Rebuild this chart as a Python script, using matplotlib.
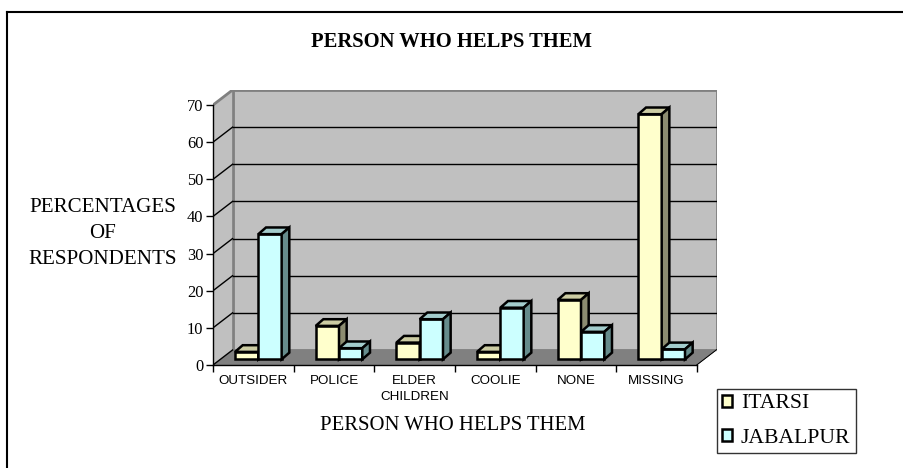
import matplotlib
matplotlib.use('Agg')
import matplotlib.pyplot as plt
from matplotlib.patches import Polygon, Rectangle, Patch
from matplotlib.lines import Line2D

# ---------------- data ----------------
categories = ['OUTSIDER', 'POLICE', 'ELDER\nCHILDREN', 'COOLIE', 'NONE', 'MISSING']
series_names = ['ITARSI', 'JABALPUR']
itarsi = [2.0, 9.0, 4.5, 2.0, 16.0, 66.0]
jabalpur = [33.7, 3.0, 10.8, 13.9, 7.4, 2.7]
yticks = [0, 10, 20, 30, 40, 50, 60, 70]
title = 'PERSON WHO HELPS THEM'
xlabel = 'PERSON WHO HELPS THEM'
ylabel = 'PERCENTAGES\nOF\nRESPONDENTS'

# ---------------- style ----------------
SERIF = 'Liberation Serif'
SANS = 'Liberation Sans'
front_cols = ['#FFFFCC', '#CCFFFF']
top_cols = ['#CCCCA3', '#A3CCCC']
side_cols = ['#8C8C70', '#668C8C']
WALL = '#C0C0C0'
WALL_EDGE = '#808080'
FLOOR = '#808080'

W, H = 904, 468
fig = plt.figure(figsize=(W / 100, H / 100), dpi=100)
fig.patch.set_facecolor('white')

ncat = len(categories)
ymax_val = yticks[-1]
DX, DY = 0.242, 4.04          # wall depth in data units
px_cat, px_unit = 80.67, 3.714
xmax = ncat + DX
ymax = ymax_val + DY
ax = fig.add_axes([213 / W, (H - 365) / H, xmax * px_cat / W, ymax * px_unit / H])
ax.set_xlim(0, xmax)
ax.set_ylim(0, ymax)
ax.patch.set_visible(False)

# walls
ax.add_patch(Polygon([(0, 0), (DX, DY), (DX, ymax), (0, ymax_val)], closed=True,
                     facecolor=WALL, edgecolor='none', zorder=0.5))
ax.add_patch(Polygon([(0, ymax_val), (DX, ymax)], closed=False, fill=False,
                     edgecolor=WALL_EDGE, lw=2, zorder=0.8))
ax.add_patch(Rectangle((DX, DY), ncat, ymax_val, facecolor=WALL, edgecolor=WALL_EDGE,
                       lw=2, zorder=0.6))
# floor
ax.add_patch(Polygon([(0, 0), (ncat, 0), (ncat + DX, DY), (DX, DY)], closed=True,
                     facecolor=FLOOR, edgecolor='none', zorder=0.7))
ax.plot([ncat, ncat + DX], [0, DY], color='black', lw=1, zorder=0.9)
ax.plot([ncat + 0.02, ncat + DX + 0.02], [0, DY], color='white', lw=0.8, zorder=0.9)

# gridlines on back wall + left wall
for v in yticks:
    if v > 0 and v < ymax_val:
        ax.plot([DX, ncat + DX], [v + DY, v + DY], color='black', lw=1, zorder=0.8)
    if v < ymax_val:
        ax.plot([0, DX], [v, v + DY], color='black', lw=1, zorder=0.85)

# bars
X0 = 0.273
BW = 0.289
B0 = 1.53
ddx, ddy = 0.095, 1.8
for i in range(ncat):
    for s, vals in enumerate([itarsi, jabalpur]):
        v = vals[i]
        x = i + X0 + s * BW
        b = B0
        t = B0 + v
        kw = dict(closed=True, edgecolor='black', lw=1.8, joinstyle='miter', zorder=3 + s)
        ax.add_patch(Polygon([(x, b), (x + BW, b), (x + BW, t), (x, t)],
                             facecolor=front_cols[s], **kw))
        ax.add_patch(Polygon([(x, t), (x + BW, t), (x + BW + ddx, t + ddy), (x + ddx, t + ddy)],
                             facecolor=top_cols[s], **kw))
        ax.add_patch(Polygon([(x + BW, b), (x + BW + ddx, b + ddy), (x + BW + ddx, t + ddy), (x + BW, t)],
                             facecolor=side_cols[s], **kw))

# spines / ticks
for k in ['top', 'right']:
    ax.spines[k].set_visible(False)
ax.spines['left'].set_bounds(0, ymax_val)
ax.spines['bottom'].set_bounds(0, ncat)
for k in ['left', 'bottom']:
    ax.spines[k].set_color('black')
    ax.spines[k].set_linewidth(1)
    ax.spines[k].set_zorder(5)

ax.set_yticks(yticks)
ax.set_yticklabels([str(v) for v in yticks], fontfamily=SERIF, fontsize=11.8)
ax.tick_params(axis='y', direction='out', length=5, width=1, pad=2, colors='black')

ax.set_xticks(range(ncat + 1))
ax.set_xticklabels([])
ax.tick_params(axis='x', which='major', direction='out', length=5, width=1)
ax.set_xticks([i + 0.5 for i in range(ncat)], minor=True)
ax.set_xticklabels(categories, minor=True, fontfamily=SANS, fontsize=9.6,
                   linespacing=1.45)
ax.tick_params(axis='x', which='minor', length=0, pad=7)

# texts
fig.text(452 / W, 1 - 42 / H, title, ha='center', va='center', fontfamily=SERIF,
         fontsize=14.8, fontweight='bold')
fig.text(453 / W, 1 - 425 / H, xlabel, ha='center', va='center', fontfamily=SERIF,
         fontsize=14.9)
fig.text(103 / W, 1 - 233 / H, ylabel, ha='center', va='center', fontfamily=SERIF,
         fontsize=15.1, multialignment='center', linespacing=1.5)

# legend
handles = [Patch(facecolor=front_cols[s], edgecolor='black', lw=1.8) for s in range(2)]
leg = fig.legend(handles, series_names, loc='upper left',
                 bbox_to_anchor=(717 / W, 1 - 389 / H), borderaxespad=0,
                 prop={'family': SERIF, 'size': 15.6}, frameon=True, fancybox=False,
                 shadow=False, handlelength=0.45, handleheight=0.45, handletextpad=0.4,
                 labelspacing=0.72, borderpad=0.25)
leg.get_frame().set_edgecolor('black')
leg.get_frame().set_linewidth(1)

# outer frame (top and left edges)
fig.add_artist(Line2D([7 / W, 1], [1 - 12 / H, 1 - 12 / H], color='black', lw=1.5))
fig.add_artist(Line2D([7 / W, 7 / W], [0, 1 - 12 / H], color='black', lw=1.5))

fig.savefig('out.png', dpi=100)
